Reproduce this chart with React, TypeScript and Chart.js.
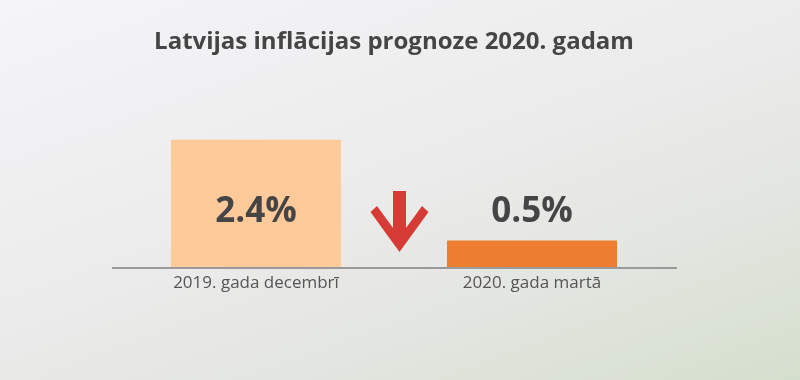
import React, { useEffect, useRef } from "react";
import { Chart, registerables } from "chart.js";

Chart.register(...registerables);

const TITLE = "Latvijas inflācijas prognoze 2020. gadam";
const CATEGORIES = ["2019. gada decembrī", "2020. gada martā"];
const VALUES = [2.4, 0.5];
const VALUE_LABELS = ["2.4%", "0.5%"];
const BAR_COLORS = ["#FFCA99", "#ED7D31"];
const Y_MAX = 3.0;

const valueLabelPlugin = {
  id: "valueLabels",
  afterDatasetsDraw(chart: any) {
    const { ctx, chartArea } = chart;
    const meta = chart.getDatasetMeta(0);
    ctx.save();
    // baseline axis line, slightly wider than the plot area
    ctx.strokeStyle = "#9A9A9A";
    ctx.lineWidth = 2;
    ctx.beginPath();
    ctx.moveTo(chartArea.left - 6, chartArea.bottom + 1);
    ctx.lineTo(chartArea.right + 7, chartArea.bottom + 1);
    ctx.stroke();

    ctx.fillStyle = "#454545";
    ctx.font = "bold 35px 'Open Sans'";
    ctx.textAlign = "center";
    ctx.textBaseline = "alphabetic";
    const baseY = chartArea.bottom - 45;
    meta.data.forEach((bar: any, i: number) => {
      ctx.fillText(VALUE_LABELS[i], bar.x, baseY);
    });
    // down arrow between bars
    const b0 = meta.data[0];
    const b1 = meta.data[1];
    const cx = (b0.x + b0.width / 2 + b1.x - b1.width / 2) / 2 + 5.5;
    const bottom = chartArea.bottom;
    const tipY = bottom - 15;
    const topY = bottom - 76;
    const notchY = bottom - 39;
    const wingY = bottom - 55;
    const wingInY = bottom - 61;
    ctx.fillStyle = "#D63C35";
    ctx.beginPath();
    ctx.moveTo(cx - 6.5, topY);
    ctx.lineTo(cx + 6.5, topY);
    ctx.lineTo(cx + 6.5, notchY);
    ctx.lineTo(cx + 22.5, wingInY);
    ctx.lineTo(cx + 29, wingY);
    ctx.lineTo(cx, tipY);
    ctx.lineTo(cx - 29, wingY);
    ctx.lineTo(cx - 22.5, wingInY);
    ctx.lineTo(cx - 6.5, notchY);
    ctx.closePath();
    ctx.fill();
    ctx.restore();
  },
};

export default function App() {
  const canvasRef = useRef<HTMLCanvasElement | null>(null);

  useEffect(() => {
    document.body.style.margin = "0";
    const canvas = canvasRef.current;
    if (!canvas) return;
    const chart = new Chart(canvas, {
      type: "bar",
      data: {
        labels: CATEGORIES,
        datasets: [
          {
            data: VALUES,
            backgroundColor: BAR_COLORS,
            borderWidth: 0,
            barPercentage: 0.616,
            categoryPercentage: 1,
          },
        ],
      },
      options: {
        responsive: false,
        maintainAspectRatio: false,
        animation: false,
        layout: { padding: { left: 118, right: 130, top: 0, bottom: 0 } },
        plugins: {
          legend: { display: false },
          tooltip: { enabled: false },
          title: {
            display: true,
            text: TITLE,
            color: "#454545",
            font: { family: "'Open Sans'", size: 24, weight: "bold", lineHeight: 1.2 },
            padding: { top: 28, bottom: 51.2 },
          },
        },
        scales: {
          x: {
            grid: { display: false, drawTicks: false },
            border: { display: false },
            ticks: {
              color: "#555555",
              font: { family: "'Open Sans'", size: 17 },
              padding: 6,
            },
            afterFit(scale: any) {
              scale.height = 113;
            },
          },
          y: {
            display: false,
            min: 0,
            max: Y_MAX,
          },
        },
      },
      plugins: [valueLabelPlugin],
    });
    return () => chart.destroy();
  }, []);

  return (
    <div
      style={{
        position: "fixed",
        left: 0,
        top: 0,
        width: 800,
        height: 380,
        background:
          "linear-gradient(160deg, #f5f4f8 0%, #ececec 45%, #e4e6e2 70%, #d5dfcd 100%)",
      }}
    >
      <canvas ref={canvasRef} width={800} height={380} style={{ display: "block" }} />
    </div>
  );
}
